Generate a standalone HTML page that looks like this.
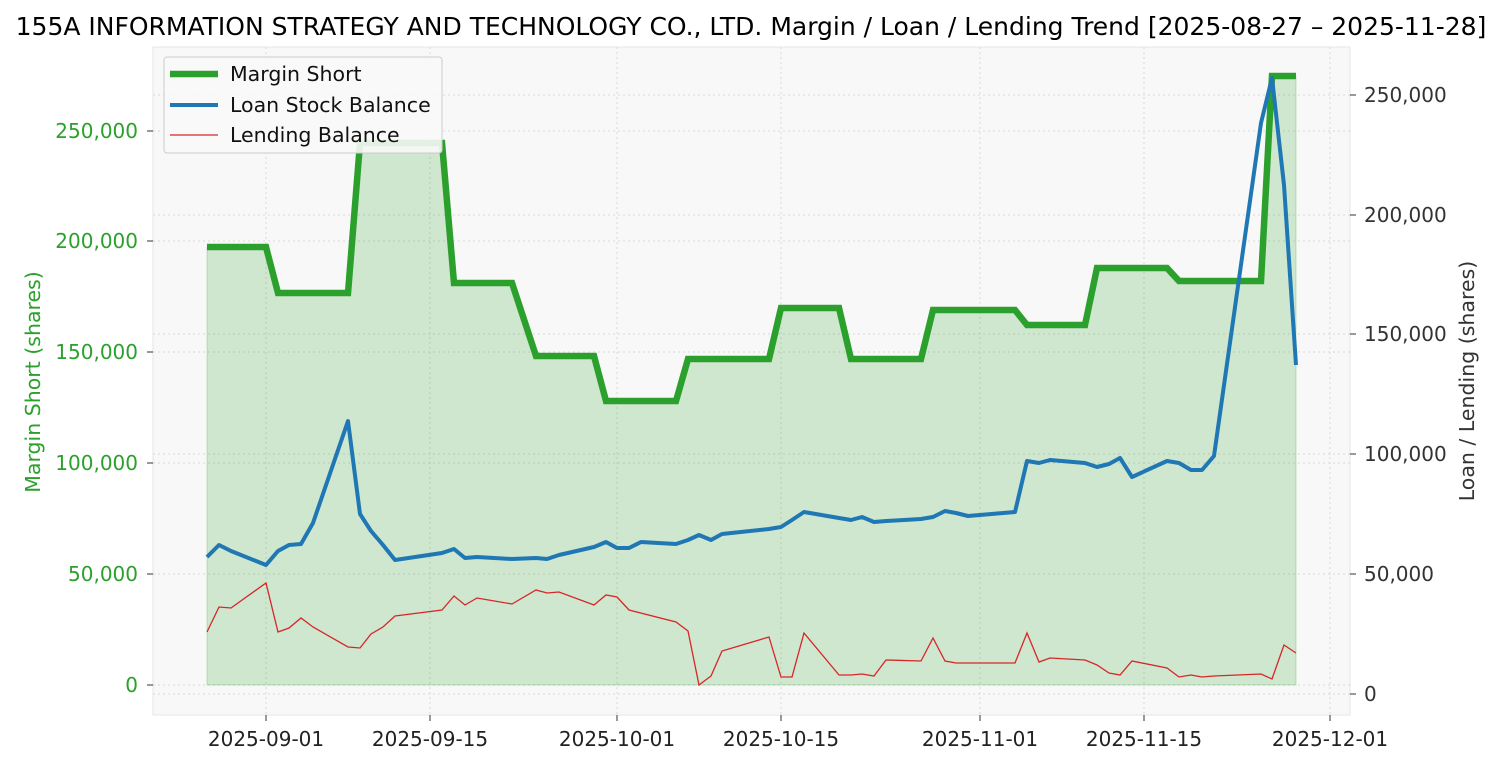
<!DOCTYPE html>
<html><head><meta charset="utf-8"><style>body{margin:0;background:#fff}svg{display:block;font-family:"DejaVu Sans",sans-serif}</style></head><body>
<svg width="1503" height="765" viewBox="0 0 1503 765">
<rect x="0" y="0" width="1503" height="765" fill="#fff"/>
<rect x="153" y="47" width="1197" height="668" fill="#f8f8f8" stroke="#e6e6e6"/>
<g stroke="#d8d8d8" stroke-dasharray="2,3" stroke-width="1">
<line x1="266" y1="47" x2="266" y2="715"/><line x1="430" y1="47" x2="430" y2="715"/><line x1="617" y1="47" x2="617" y2="715"/><line x1="781" y1="47" x2="781" y2="715"/><line x1="980" y1="47" x2="980" y2="715"/><line x1="1144" y1="47" x2="1144" y2="715"/><line x1="1330" y1="47" x2="1330" y2="715"/>
<line x1="153" y1="685" x2="1350" y2="685"/><line x1="153" y1="574" x2="1350" y2="574"/><line x1="153" y1="463" x2="1350" y2="463"/><line x1="153" y1="352" x2="1350" y2="352"/><line x1="153" y1="241" x2="1350" y2="241"/><line x1="153" y1="131" x2="1350" y2="131"/>
<line x1="153" y1="694" x2="1350" y2="694"/><line x1="153" y1="454" x2="1350" y2="454"/><line x1="153" y1="334" x2="1350" y2="334"/><line x1="153" y1="215" x2="1350" y2="215"/><line x1="153" y1="95" x2="1350" y2="95"/>
</g>
<polygon fill="#2ca02c" fill-opacity="0.2" stroke="#2ca02c" stroke-opacity="0.25" points="207,685 207,247 266,247 278,293 348,293 360,143 442,143 454,283 512,283 536,356 594,356 606,401 676,401 688,359 769,359 781,308 839,308 851,359 921,359 933,310 1015,310 1027,325 1085,325 1097,268 1167,268 1179,281 1261,281 1272,76 1296,76 1296,685"/>
<polyline fill="none" stroke="#2ca02c" stroke-width="6.5" points="207,247 266,247 278,293 348,293 360,143 442,143 454,283 512,283 536,356 594,356 606,401 676,401 688,359 769,359 781,308 839,308 851,359 921,359 933,310 1015,310 1027,325 1085,325 1097,268 1167,268 1179,281 1261,281 1272,76 1296,76"/>
<polyline fill="none" stroke="#1f77b4" stroke-width="4" stroke-linejoin="round" points="207,557 219,545 231,551 266,565 278,551 289,545 301,544 313,523 348,421 360,514 371,531 383,545 395,560 442,553 454,549 465,558 477,557 512,559 536,558 547,559 559,555 594,547 606,542 617,548 629,548 641,542 676,544 688,540 699,535 711,540 722,534 769,529 781,527 792,520 804,512 839,518 851,520 862,517 874,522 886,521 921,519 933,517 945,511 956,513 968,516 1015,512 1027,461 1039,463 1050,460 1085,463 1097,467 1109,464 1120,458 1132,477 1167,461 1179,463 1191,470 1202,470 1214,456 1261,123 1272,78 1284,185 1296,365"/>
<polyline fill="none" stroke="#d62728" stroke-width="1.3" points="207,632 219,607 231,608 266,583 278,632 289,628 301,618 313,627 348,647 360,648 371,634 383,627 395,616 442,610 454,596 465,605 477,598 512,604 536,590 547,593 559,592 594,605 606,595 617,597 629,610 676,622 688,631 699,685 711,676 722,651 769,637 781,677 792,677 804,633 839,675 851,675 862,674 874,676 886,660 921,661 933,638 945,661 956,663 1015,663 1027,633 1039,662 1050,658 1085,660 1097,665 1109,673 1120,675 1132,661 1167,668 1179,677 1191,675 1202,677 1214,676 1261,674 1272,679 1284,645 1296,653"/>
<g font-size="20" fill="#2ca02c" text-anchor="end">
<text x="138" y="692">0</text><text x="138" y="581">50,000</text><text x="138" y="470">100,000</text><text x="138" y="359">150,000</text><text x="138" y="248">200,000</text><text x="138" y="138">250,000</text></g>
<g stroke="#333"><line x1="147" y1="685" x2="153" y2="685"/><line x1="147" y1="574" x2="153" y2="574"/><line x1="147" y1="463" x2="153" y2="463"/><line x1="147" y1="352" x2="153" y2="352"/><line x1="147" y1="241" x2="153" y2="241"/><line x1="147" y1="131" x2="153" y2="131"/>
<line x1="1350" y1="694" x2="1356" y2="694"/><line x1="1350" y1="574" x2="1356" y2="574"/><line x1="1350" y1="454" x2="1356" y2="454"/><line x1="1350" y1="334" x2="1356" y2="334"/><line x1="1350" y1="215" x2="1356" y2="215"/><line x1="1350" y1="95" x2="1356" y2="95"/>
<line x1="266" y1="715" x2="266" y2="721"/><line x1="430" y1="715" x2="430" y2="721"/><line x1="617" y1="715" x2="617" y2="721"/><line x1="781" y1="715" x2="781" y2="721"/><line x1="980" y1="715" x2="980" y2="721"/><line x1="1144" y1="715" x2="1144" y2="721"/><line x1="1330" y1="715" x2="1330" y2="721"/></g>
<g font-size="20" fill="#333">
<text x="1364" y="701">0</text><text x="1364" y="581">50,000</text><text x="1364" y="461">100,000</text><text x="1364" y="341">150,000</text><text x="1364" y="222">200,000</text><text x="1364" y="102">250,000</text></g>
<g font-size="20" fill="#222" text-anchor="middle">
<text x="266" y="746">2025-09-01</text><text x="430" y="746">2025-09-15</text><text x="617" y="746">2025-10-01</text><text x="781" y="746">2025-10-15</text><text x="980" y="746">2025-11-01</text><text x="1144" y="746">2025-11-15</text><text x="1330" y="746">2025-12-01</text></g>
<text x="40" y="382" font-size="20.5" fill="#2ca02c" text-anchor="middle" transform="rotate(-90 40 382)">Margin Short (shares)</text>
<text x="1474" y="381" font-size="20.5" fill="#333" text-anchor="middle" transform="rotate(-90 1474 381)">Loan / Lending (shares)</text>
<text x="751" y="35" font-size="25" fill="#000" text-anchor="middle">155A INFORMATION STRATEGY AND TECHNOLOGY CO., LTD. Margin / Loan / Lending Trend [2025-08-27 – 2025-11-28]</text>
<rect x="164" y="57" width="278" height="96" rx="3" fill="#f8f8f8" fill-opacity="0.9" stroke="#ccc"/>
<line x1="170" y1="74" x2="218" y2="74" stroke="#2ca02c" stroke-width="6.5"/>
<line x1="170" y1="105" x2="218" y2="105" stroke="#1f77b4" stroke-width="4"/>
<line x1="170" y1="135" x2="218" y2="135" stroke="#d62728" stroke-width="1.3"/>
<g font-size="20.5" fill="#111"><text x="230" y="81">Margin Short</text><text x="230" y="112">Loan Stock Balance</text><text x="230" y="142">Lending Balance</text></g>
</svg>
</body></html>
